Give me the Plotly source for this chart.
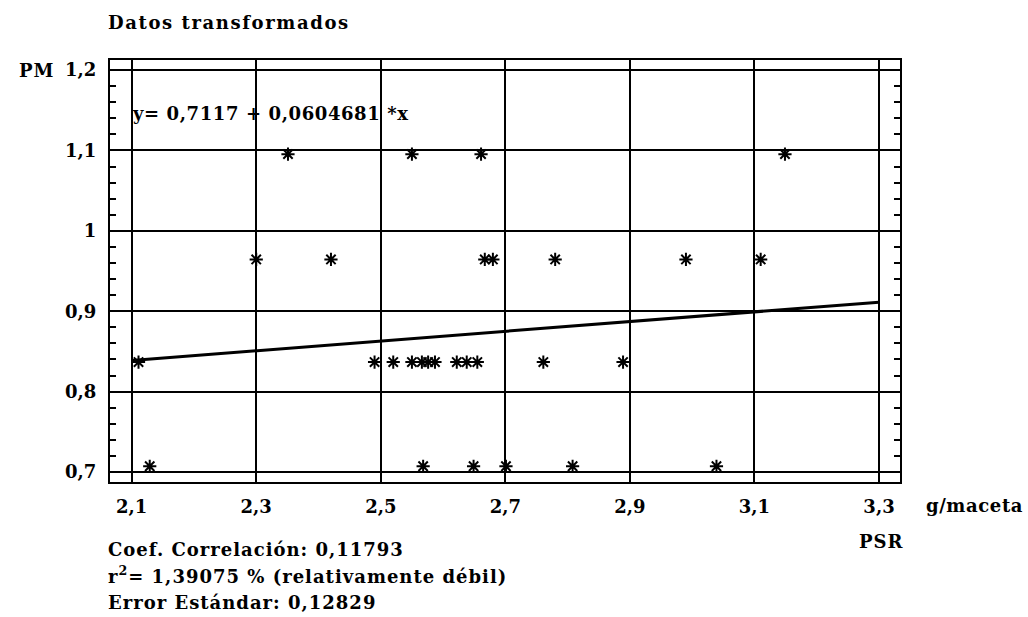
import plotly.graph_objects as go

# Transformed data: PSR (g/maceta) vs PM
psr = [2.351, 2.550, 2.661, 3.149,
       2.300, 2.420, 2.667, 2.680, 2.780, 2.990, 3.110,
       2.111, 2.490, 2.520, 2.550, 2.566, 2.576, 2.587, 2.622, 2.638, 2.655, 2.761, 2.889,
       2.129, 2.568, 2.649, 2.701, 2.808, 3.039]
pm = [1.0954] * 4 + [0.9644] * 7 + [0.8367] * 12 + [0.7071] * 6

# Fitted model y = a + b*x
intercept = 0.7117
slope = 0.0604681
fit_x = [2.1, 3.3]

x_ticks = [2.1, 2.3, 2.5, 2.7, 2.9, 3.1, 3.3]
x_labels = ["2,1", "2,3", "2,5", "2,7", "2,9", "3,1", "3,3"]
y_ticks = [0.7, 0.8, 0.9, 1.0, 1.1, 1.2]
y_labels = ["0,7", "0,8", "0,9", "1", "1,1", "1,2"]

stats_lines = [
    "Coef. Correlación: 0,11793",
    "r<sup>2</sup>= 1,39075 % (relativamente débil)",
    "Error Estándar: 0,12829",
]

FONT = "DejaVu Serif, Liberation Serif, serif"
FS = 18


def sp(text, spacing=1.0):
    return f'<span style="letter-spacing:{spacing}px">{text}</span>'


fig = go.Figure()

fig.add_trace(go.Scatter(
    x=fit_x,
    y=[intercept + slope * v for v in fit_x],
    mode="lines",
    line=dict(color="black", width=3),
    hoverinfo="skip",
))

fig.add_trace(go.Scatter(
    x=psr, y=pm, mode="markers",
    marker=dict(symbol="asterisk-open", size=11, color="black",
                line=dict(color="black", width=2)),
))

L, R, T, B = 110, 128, 60, 135
W, H = 1028, 617
pw, ph = W - L - R, H - T - B


def px(xp):
    return (xp - L) / pw


def py(yp):
    return (H - B - yp) / ph


ann = []


def add_text(text, x, y, xanchor="left", yanchor="middle", spacing=1.0):
    ann.append(dict(text=sp(text, spacing), x=px(x), y=py(y), xref="paper", yref="paper",
                    xanchor=xanchor, yanchor=yanchor, showarrow=False,
                    font=dict(family=FONT, size=FS, color="black", weight="bold")))


add_text("Datos transformados", 106, 23, spacing=1.6)
add_text("PM", 56, 70, xanchor="right")
add_text("y= 0,7117 + 0,0604681 *x", 130, 113, spacing=0.6)
add_text("g/maceta", 924, 506, spacing=0.6)
add_text("PSR", 857, 541)
for i, line in enumerate(stats_lines):
    add_text(line, 106, [549, 575, 602][i])

fig.update_layout(
    width=W, height=H,
    margin=dict(l=L, r=R, t=T, b=B),
    plot_bgcolor="white", paper_bgcolor="white",
    showlegend=False,
    annotations=ann,
)

fig.update_xaxes(
    range=[2.0652, 3.3337],
    tickvals=x_ticks, ticktext=[sp(t, 0) for t in x_labels],
    showgrid=True, gridcolor="black", gridwidth=1.6,
    showline=True, linecolor="black", linewidth=2, mirror=True,
    ticks="", zeroline=False,
    ticklabelstandoff=7,
    tickfont=dict(family=FONT, size=FS, color="black", weight="bold"),
)

fig.update_yaxes(
    range=[0.6875, 1.2125],
    tickvals=y_ticks, ticktext=[sp(t, 0) for t in y_labels],
    showgrid=True, gridcolor="black", gridwidth=1.6,
    showline=True, linecolor="black", linewidth=2, mirror="allticks",
    ticks="inside", ticklen=6, tickcolor="black", tickwidth=1.5,
    minor=dict(tick0=0.7, dtick=0.02, ticks="inside", ticklen=6,
               tickcolor="black", tickwidth=1.5, showgrid=False),
    zeroline=False,
    ticklabelstandoff=8,
    tickfont=dict(family=FONT, size=FS, color="black", weight="bold"),
)

fig.write_html("out.html")
